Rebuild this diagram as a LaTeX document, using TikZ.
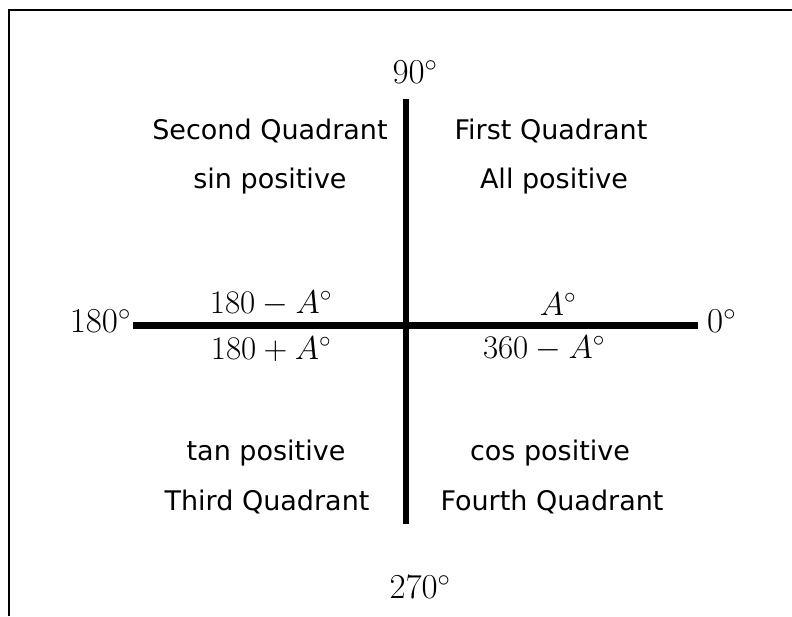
\RequirePackage{fix-cm}
\documentclass[tikz,border=0pt]{standalone}
\usepackage{fontspec}
\setmainfont{DejaVu Sans}
\usepackage{amsmath}
\usetikzlibrary{positioning}
\tikzset{
  cadre/.style={line width=2.5pt},
  axe/.style={line width=6.5pt},
  quad/.style={font=\fontsize{27}{31}\selectfont,anchor=base,inner sep=0pt},
  ang/.style={font=\fontsize{33}{38}\selectfont,inner sep=0pt},
  bout/.style={font=\fontsize{35}{40}\selectfont,inner sep=0pt},
}

\begin{document}
\begin{tikzpicture}[x=1pt,y=-1pt]
  \useasboundingbox (0,0) rectangle (792,616);
  \draw[cadre] (9,616) -- (9,10) -- (792,10);
  % axes
  \coordinate (haut) at (406,99);
  \coordinate (bas) at (406,524);
  \coordinate (gauche) at (133,325.5);
  \coordinate (droite) at (698,325.5);
  \draw[axe] (haut) -- (bas);
  \draw[axe] (gauche) -- (droite);
  % angles aux extremites
  \node[bout] (a90) at (415,72) {$90^\circ$};
  \node[bout] (a270) at (420,587) {$270^\circ$};
  \node[bout,anchor=east] (a180) at (131,321) {$180^\circ$};
  \node[bout,anchor=west] (a0) at (707,321) {$0^\circ$};
  % angles des quadrants
  \node[ang] (q2a) at (271,304) {$180-A^\circ$};
  \node[ang] (q3a) at (271,349) {$180+A^\circ$};
  \node[ang] (q1a) at (558,304) {$A^\circ$};
  \node[ang] (q4a) at (544,349) {$360-A^\circ$};
  % textes
  \node[quad] (q2t) at (270,139) {Second Quadrant};
  \node[quad] (q2s) at (270,188) {sin positive};
  \node[quad] (q1t) at (551,139) {First Quadrant};
  \node[quad] (q1s) at (554,188) {All positive};
  \node[quad] (q3s) at (266,460) {tan positive};
  \node[quad] (q3t) at (267,510) {Third Quadrant};
  \node[quad] (q4s) at (550,460) {cos positive};
  \node[quad] (q4t) at (552,510) {Fourth Quadrant};
\end{tikzpicture}
\end{document}
